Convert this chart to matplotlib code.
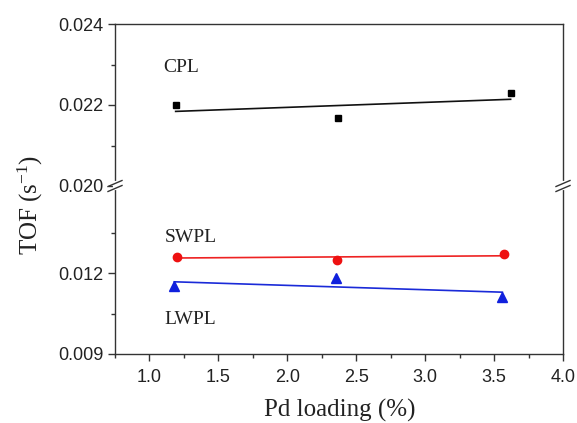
import numpy as np
import matplotlib
matplotlib.use("Agg")
import matplotlib.pyplot as plt
from matplotlib.ticker import MultipleLocator, FixedLocator, FormatStrFormatter
from matplotlib.lines import Line2D

# Data
cpl_x = [1.19, 2.37, 3.62]
cpl_y = [0.02200, 0.02168, 0.02229]
swpl_x = [1.20, 2.36, 3.57]
swpl_y = [0.01262, 0.01250, 0.01270]
lwpl_x = [1.18, 2.35, 3.56]
lwpl_y = [0.01151, 0.01183, 0.01113]
labels = ["CPL", "SWPL", "LWPL"]

plt.rcParams["mathtext.fontset"] = "custom"
plt.rcParams["mathtext.rm"] = "Liberation Serif"
plt.rcParams["mathtext.it"] = "Liberation Serif:italic"
plt.rcParams["mathtext.default"] = "regular"

W, H = 577, 423
fig = plt.figure(figsize=(W / 100, H / 100), dpi=100)

left_px, right_px = 115, 563
top_px, brk_px, bot_px = 24, 186, 354

def rect(t, b):
    return [left_px / W, 1 - b / H, (right_px - left_px) / W, (b - t) / H]

ax_top = fig.add_axes(rect(top_px, brk_px))
ax_bot = fig.add_axes(rect(brk_px, bot_px))

serif = "Liberation Serif"
sans = "Liberation Sans"
spine_c = "#333333"

for ax in (ax_top, ax_bot):
    ax.set_xlim(0.75, 4.0)
    for s in ax.spines.values():
        s.set_color(spine_c)
        s.set_linewidth(1.0)
    ax.tick_params(axis="both", which="major", direction="out", length=5, width=1.0,
                   color=spine_c, labelsize=13)
    ax.tick_params(axis="both", which="minor", direction="out", length=3, width=1.0,
                   color=spine_c)
    ax.tick_params(right=False, top=False, which="both")
    ax.patch.set_alpha(0)

ax_top.set_ylim(0.020, 0.024)
ax_top.yaxis.set_major_locator(MultipleLocator(0.002))
ax_top.yaxis.set_minor_locator(MultipleLocator(0.001))
ax_top.yaxis.set_major_formatter(FormatStrFormatter("%.3f"))
ax_top.spines["bottom"].set_visible(False)
ax_top.tick_params(axis="x", which="both", bottom=False, labelbottom=False)

ax_bot.set_ylim(0.009, 0.01524)
ax_bot.yaxis.set_major_locator(FixedLocator([0.009, 0.012]))
ax_bot.yaxis.set_minor_locator(FixedLocator([0.0105, 0.0135]))
ax_bot.yaxis.set_major_formatter(FormatStrFormatter("%.3f"))
ax_bot.spines["top"].set_visible(False)
ax_bot.xaxis.set_major_locator(MultipleLocator(0.5))
ax_bot.xaxis.set_minor_locator(MultipleLocator(0.25))
ax_bot.xaxis.set_major_formatter(FormatStrFormatter("%.1f"))
ax_bot.tick_params(axis="x", which="major", pad=6)

for ax in (ax_top, ax_bot):
    for lab in ax.get_yticklabels() + ax.get_xticklabels():
        lab.set_fontfamily(sans)
        lab.set_fontsize(13)
        lab.set_color("#222222")

def fit_line(ax, x, y, color):
    x = np.asarray(x); y = np.asarray(y)
    k, b = np.polyfit(x, y, 1)
    xs = np.array([x.min(), x.max()])
    ax.plot(xs, k * xs + b, color=color, lw=1.2, zorder=2)

ax_top.plot(cpl_x, cpl_y, "s", color="black", ms=5, zorder=3)
fit_line(ax_top, cpl_x, cpl_y, "#111111")

ax_bot.plot(swpl_x, swpl_y, "o", color="#ee1111", ms=6, zorder=3)
fit_line(ax_bot, swpl_x, swpl_y, "#ee2222")
ax_bot.plot(lwpl_x, lwpl_y, "^", color="#1020dd", ms=6.5, zorder=3)
fit_line(ax_bot, lwpl_x, lwpl_y, "#1a2ad8")

ax_top.text(1.10, 0.02293, labels[0], fontfamily=serif, fontsize=14, va="center", ha="left", color="#222222")
ax_bot.text(1.11, 0.01333, labels[1], fontfamily=serif, fontsize=14, va="center", ha="left", color="#222222")
ax_bot.text(1.11, 0.01029, labels[2], fontfamily=serif, fontsize=14, va="center", ha="left", color="#222222")

# break marks
def brk(xpx, ypx):
    fig.add_artist(Line2D([xpx / W, xpx / W], [1 - (ypx - 2.5) / H, 1 - (ypx + 2.5) / H],
                          color="white", lw=3, transform=fig.transFigure, zorder=5))
    for dy in (-2.5, 2.5):
        x0, x1 = xpx - 7, xpx + 7
        y0, y1 = ypx + dy + 3, ypx + dy - 3
        fig.add_artist(Line2D([x0 / W, x1 / W], [1 - y0 / H, 1 - y1 / H],
                              color=spine_c, lw=1.0, transform=fig.transFigure, zorder=6))

brk(left_px, brk_px)
brk(right_px, brk_px)

fig.text(340 / W, 1 - 410 / H, "Pd loading (%)", fontfamily=serif, fontsize=18,
         ha="center", va="center", color="#222222")
fig.text(30 / W, 1 - 205 / H, "TOF (s$^{-1}$)", fontfamily=serif, fontsize=18,
         ha="center", va="center", rotation=90, color="#222222")

fig.savefig("out.png", dpi=100)
